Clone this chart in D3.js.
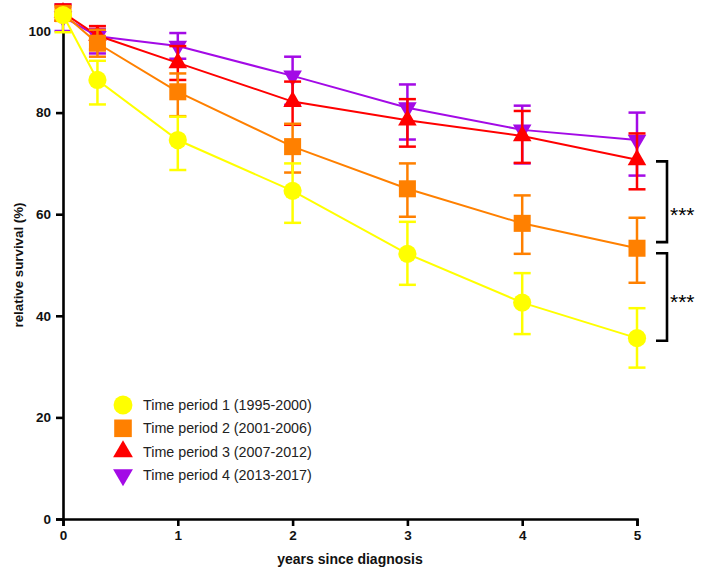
<!DOCTYPE html>
<html>
<head>
<meta charset="utf-8">
<script src="https://cdn.jsdelivr.net/npm/d3@7"></script>
<style>
  body { margin: 0; background: #fff; }
  text { font-family: Arial, "Liberation Sans", sans-serif; }
</style>
</head>
<body>
<div id="chart"></div>
<script>
// years since diagnosis
var times = [0, 0.3, 1, 2, 3, 4, 5];

// relative survival (%) with lower / upper bounds for each time period
var p1 = [103.9, 88.0, 74.6, 64.6, 52.2, 42.6, 35.6];
var p1Low = [99.7, 82.0, 68.7, 58.3, 46.1, 36.4, 29.8];
var p1High = [105.0, 92.7, 79.2, 70.0, 58.5, 48.4, 41.5];

var p2 = [104.3, 97.0, 85.1, 73.3, 65.0, 58.2, 53.3];
var p2Low = [102.5, 93.7, 79.3, 68.2, 59.5, 52.2, 46.5];
var p2High = [106.0, 100.3, 89.6, 77.8, 70.0, 63.7, 59.3];

var p3 = [104.5, 98.9, 92.2, 82.7, 78.5, 75.4, 70.7];
var p3Low = [102.5, 95.5, 88.0, 77.6, 73.3, 70.1, 64.9];
var p3High = [106.5, 101.2, 96.3, 87.6, 83.3, 80.4, 75.9];

var p4 = [103.5, 98.7, 96.3, 89.0, 81.2, 76.6, 74.6];
var p4Low = [100.0, 94.5, 93.2, 81.9, 74.7, 70.0, 67.6];
var p4High = [106.5, 100.5, 99.5, 93.7, 86.9, 81.7, 80.0];

var seriesNames = ["Time period 1 (1995-2000)", "Time period 2 (2001-2006)",
                   "Time period 3 (2007-2012)", "Time period 4 (2013-2017)"];
var xTicks = [0, 1, 2, 3, 4, 5];
var yTicks = [0, 20, 40, 60, 80, 100];

// significance brackets at 5 years: top, bottom and where the stars sit
var bracketTop = [70.4, 52.3];
var bracketBottom = [54.5, 35.1];
var bracketLabelAt = [60.2, 43.1];
var bracketLabel = ["***", "***"];

function base(){
    var w = 702;
    var h = 573;

    var colors = ["#ffff00", "#ff8000", "#ff0000", "#a30ae6"];
    var shapes = [d3.symbolCircle, d3.symbolSquare, d3.symbolTriangle, d3.symbolTriangle];
    var sizes = [260, 290, 150, 150];
    var rotate = [0, 0, 0, 180];

    var series = [
        {v: p1, lo: p1Low, hi: p1High},
        {v: p2, lo: p2Low, hi: p2High},
        {v: p3, lo: p3Low, hi: p3High},
        {v: p4, lo: p4Low, hi: p4High}
    ];

    var x = d3.scaleLinear().domain([0, 5]).range([63, 637]);
    // the 80-100 band is squeezed in the original figure
    var y = d3.scaleLinear().domain([0, 80, 100]).range([519, 112.6, 31]);

    var svg = d3.select("#chart")
                .append("svg")
                .attr("width", w)
                .attr("height", h);

    //Axes
    var xAxis = svg.append("g")
                   .attr("transform", "translate(0," + y(0) + ")")
                   .call(d3.axisBottom(x).tickValues(xTicks).tickSize(7).tickPadding(4).tickFormat(d3.format("d")));
    var yAxis = svg.append("g")
                   .attr("transform", "translate(" + x(0) + ",0)")
                   .call(d3.axisLeft(y).tickValues(yTicks).tickSize(7).tickPadding(5).tickFormat(d3.format("d")));

    [xAxis, yAxis].forEach(function(a) {
        a.select(".domain").attr("stroke", "#000").attr("stroke-width", 2.6);
        a.selectAll(".tick line").attr("stroke", "#000").attr("stroke-width", 2.6);
        a.selectAll(".tick text")
         .attr("fill", "#111")
         .attr("font-size", "13.5px")
         .attr("font-weight", "bold");
    });

    svg.append("text")
       .attr("x", 350)
       .attr("y", 564)
       .attr("text-anchor", "middle")
       .attr("font-size", "14px")
       .attr("font-weight", "bold")
       .attr("fill", "#111")
       .text("years since diagnosis");

    svg.append("text")
       .attr("transform", "translate(23,265) rotate(-90)")
       .attr("text-anchor", "middle")
       .attr("font-size", "13.3px")
       .attr("font-weight", "bold")
       .attr("fill", "#111")
       .text("relative survival (%)");

    var line = d3.line()
                 .x(function(d, i) { return x(times[i]); })
                 .y(function(d) { return y(d); });

    // draw period 4 first so period 1 ends up on top
    for (var s = series.length - 1; s >= 0; s--) {
        var g = svg.append("g");
        var c = colors[s];
        var d = series[s];

        g.append("path")
         .attr("d", line(d.v))
         .attr("fill", "none")
         .attr("stroke", c)
         .attr("stroke-width", 2);

        var err = g.selectAll("g.err")
                   .data(times)
                   .enter()
                   .append("g")
                   .attr("class", "err");

        err.append("line")
           .attr("x1", function(t) { return x(t); })
           .attr("x2", function(t) { return x(t); })
           .attr("y1", function(t, i) { return y(d.lo[i]); })
           .attr("y2", function(t, i) { return y(d.hi[i]); })
           .attr("stroke", c)
           .attr("stroke-width", 2.5);

        [d.lo, d.hi].forEach(function(b) {
            err.append("line")
               .attr("x1", function(t) { return x(t) - 8.5; })
               .attr("x2", function(t) { return x(t) + 8.5; })
               .attr("y1", function(t, i) { return y(b[i]); })
               .attr("y2", function(t, i) { return y(b[i]); })
               .attr("stroke", c)
               .attr("stroke-width", 2.5);
        });

        g.selectAll("path.mark")
         .data(d.v)
         .enter()
         .append("path")
         .attr("class", "mark")
         .attr("d", d3.symbol().type(shapes[s]).size(sizes[s]))
         .attr("transform", function(v, i) {
             return "translate(" + x(times[i]) + "," + y(v) + ") rotate(" + rotate[s] + ")";
         })
         .attr("fill", c);
    }

    //Brackets
    var br = svg.selectAll("g.bracket")
                .data(bracketTop)
                .enter()
                .append("g")
                .attr("class", "bracket");

    br.append("path")
      .attr("d", function(t, i) {
          var y1 = y(t), y2 = y(bracketBottom[i]);
          return "M656," + y1 + "H667V" + y2 + "H656";
      })
      .attr("fill", "none")
      .attr("stroke", "#000")
      .attr("stroke-width", 2.6);

    br.append("text")
      .attr("x", 670)
      .attr("y", function(t, i) { return y(bracketLabelAt[i]) + 9; })
      .attr("font-size", "21px")
      .attr("fill", "#000")
      .text(function(t, i) { return bracketLabel[i]; });

    //Legend
    var leg = svg.selectAll("g.legend")
                 .data(seriesNames)
                 .enter()
                 .append("g")
                 .attr("class", "legend")
                 .attr("transform", function(n, i) { return "translate(123," + (405 + i * 23.3) + ")"; });

    leg.append("path")
       .attr("d", function(n, i) { return d3.symbol().type(shapes[i]).size(sizes[i] + 20)(); })
       .attr("transform", function(n, i) { return "rotate(" + rotate[i] + ")"; })
       .attr("fill", function(n, i) { return colors[i]; });

    leg.append("text")
       .attr("x", 20)
       .attr("y", 5)
       .attr("font-size", "14.3px")
       .attr("fill", "#222")
       .text(function(n) { return n; });
}

window.onload = base;
</script>
</body>
</html>
